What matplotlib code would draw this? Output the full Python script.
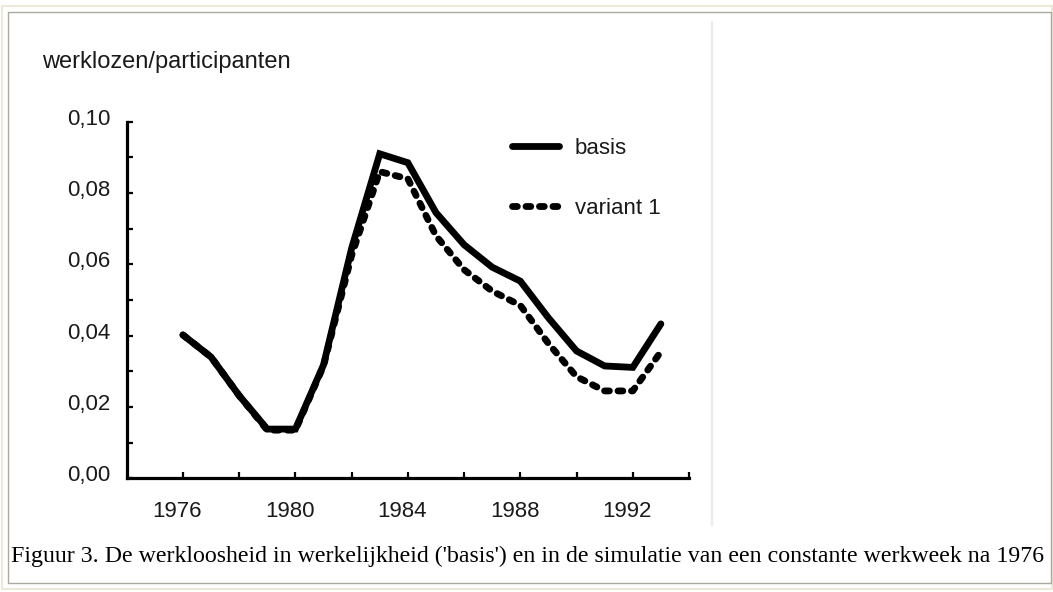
import matplotlib
matplotlib.use("Agg")
import matplotlib.pyplot as plt
import matplotlib.transforms as mtransforms
from matplotlib.patches import Rectangle
from matplotlib.lines import Line2D
from matplotlib.ticker import FixedLocator, FixedFormatter

# ---------------- data ----------------
years = [1976, 1977, 1978, 1979, 1980, 1981, 1982, 1983, 1984, 1985,
         1986, 1987, 1988, 1989, 1990, 1991, 1992, 1993]
basis = [0.0402, 0.0340, 0.0232, 0.0138, 0.0138, 0.0318, 0.0645, 0.0910,
         0.0885, 0.0745, 0.0655, 0.0592, 0.0553, 0.0450, 0.0357, 0.0315,
         0.0311, 0.0433]
variant1 = [0.0402, 0.0340, 0.0232, 0.0135, 0.0135, 0.0315, 0.0625, 0.0860,
            0.0840, 0.0680, 0.0585, 0.0525, 0.0485, 0.0378, 0.0285, 0.0245,
            0.0245, 0.0355]
series_labels = ["basis", "variant 1"]
x_major = [1976, 1980, 1984, 1988, 1992]
x_major_labels = ["1976", "1980", "1984", "1988", "1992"]
x_minor = [1978, 1982, 1986, 1990, 1994]
y_major = [0.00, 0.02, 0.04, 0.06, 0.08, 0.10]
y_major_labels = ["0,00", "0,02", "0,04", "0,06", "0,08", "0,10"]
y_minor = [0.01, 0.03, 0.05, 0.07, 0.09]
y_title = "werklozen/participanten"
caption = ("Figuur 3. De werkloosheid in werkelijkheid ('basis') en in de "
           "simulatie van een constante werkweek na 1976")

# ---------------- figure ----------------
W, H = 1053, 592
DPI = 100
plt.rcParams["lines.scale_dashes"] = False
plt.rcParams["font.family"] = ["Liberation Sans", "DejaVu Sans"]

fig = plt.figure(figsize=(W / DPI, H / DPI), dpi=DPI)
fig.patch.set_facecolor("white")


def fx(x):
    return x / W


def fy(y):
    return 1 - y / H


# frame / page decorations
fig.add_artist(Rectangle((fx(1.5), fy(589)), fx(1050), (589 - 5.5) / H,
                         transform=fig.transFigure, fill=False,
                         edgecolor="#ECE9D8", linewidth=1.5))
fig.add_artist(Rectangle((fx(7.5), fy(583)), fx(1043), (583 - 11.5) / H,
                         transform=fig.transFigure, fill=False,
                         edgecolor="#A9A9A0", linewidth=1.0))
fig.add_artist(Line2D([fx(712), fx(712)], [fy(22), fy(525)],
                      transform=fig.transFigure, color="#EBEBEB",
                      linewidth=1.6))

# axes
x0, x1 = 126.7, 689.0
y0, y1 = 478.3, 121.7
ax = fig.add_axes([fx(x0), fy(y0), (x1 - x0) / W, (y0 - y1) / H])
ax.set_xlim(1974, 1994)
ax.set_ylim(0, 0.10)
ax.set_facecolor("none")

lw = 4.9
ax.plot(years, basis, color="black", linewidth=lw,
        solid_joinstyle="miter", solid_capstyle="round",
        label=series_labels[0])
ax.plot(years, variant1, color="black", linewidth=lw,
        linestyle=(0, (3.5, 6.2)), dash_capstyle="round",
        dash_joinstyle="round", label=series_labels[1])

for s in ["top", "right"]:
    ax.spines[s].set_visible(False)
for s in ["left", "bottom"]:
    ax.spines[s].set_linewidth(2.3)
    ax.spines[s].set_color("black")
    ax.spines[s].set_capstyle("projecting")

ax.xaxis.set_major_locator(FixedLocator(x_major))
ax.xaxis.set_major_formatter(FixedFormatter(x_major_labels))
ax.xaxis.set_minor_locator(FixedLocator(x_minor))
ax.yaxis.set_major_locator(FixedLocator(y_major))
ax.yaxis.set_major_formatter(FixedFormatter(y_major_labels))
ax.yaxis.set_minor_locator(FixedLocator(y_minor))

fs = 16
ax.tick_params(axis="both", which="both", direction="in", length=4,
               width=1.6, color="black")
ax.tick_params(axis="x", which="major", pad=16, labelsize=fs,
               labelcolor="#1a1a1a")
ax.tick_params(axis="y", which="major", pad=12, labelsize=fs,
               labelcolor="#1a1a1a")

xoff = mtransforms.ScaledTranslation(-5.5 / DPI, 0, fig.dpi_scale_trans)
yoff = mtransforms.ScaledTranslation(0, 5 / DPI, fig.dpi_scale_trans)
for lab in ax.get_xticklabels():
    lab.set_transform(lab.get_transform() + xoff)
for lab in ax.get_yticklabels():
    lab.set_transform(lab.get_transform() + yoff)

# axis title
fig.text(fx(41.7), fy(61.7), y_title, fontsize=17, color="#1a1a1a",
         ha="left", va="center")

# legend
handle_len_px = 47.6
fs_px = fs * DPI / 72
leg = ax.legend(loc="upper left",
                bbox_to_anchor=(fx(511.7), fy(138)),
                bbox_transform=fig.transFigure,
                frameon=False, fontsize=fs, borderpad=0, borderaxespad=0,
                handlelength=handle_len_px / fs_px,
                handletextpad=(575 - 559.3) / fs_px,
                labelspacing=1.76)
for t in leg.get_texts():
    t.set_color("#1a1a1a")

# caption
cap = fig.text(fx(11), fy(556), caption, family="Liberation Serif",
               fontsize=14, color="black", ha="left", va="center")
fig.canvas.draw()
bb = cap.get_window_extent()
cap.set_fontsize(14 * (1039 / bb.width))

fig.savefig("out.png", dpi=DPI)
